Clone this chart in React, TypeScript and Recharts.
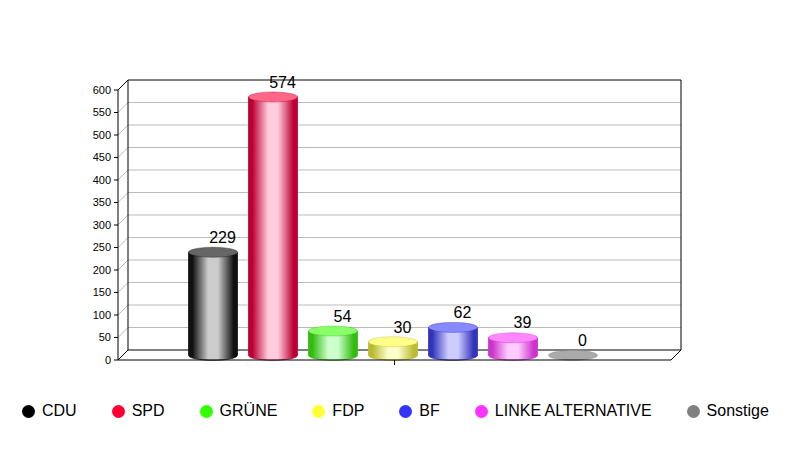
import { Bar, CartesianGrid, ComposedChart, LabelList, Legend, ReferenceArea, XAxis, YAxis } from "recharts";

const parties = ["CDU", "SPD", "GRÜNE", "FDP", "BF", "LINKE ALTERNATIVE", "Sonstige"];
const seats = [229, 574, 54, 30, 62, 39, 0];
const yTicks = [0, 50, 100, 150, 200, 250, 300, 350, 400, 450, 500, 550, 600];

const legendColors = ["#000000", "#ff0033", "#33ff00", "#ffff33", "#3333ff", "#ff33ff", "#808080"];
const edgeColors = ["#111111", "#bb0033", "#33bb11", "#bbbb33", "#3333bb", "#cc33cc", "#808080"];
const midColors = ["#cccccc", "#ffccdd", "#ccffcc", "#ffffcc", "#ccccff", "#ffccff", "#bbbbbb"];
const capColors = ["#666666", "#ff6688", "#88ff66", "#ffff88", "#8888ff", "#ff88ff", "#aaaaaa"];

const row: Record<string, string | number> = { name: " " };
parties.forEach((p, i) => {
  row[p] = seats[i];
});
const data = [row];

const FONT = "'Liberation Sans', Arial, sans-serif";
const DEPTH = 10;

// back wall line + the little diagonal going to the axis
function GridLine(props: any) {
  const { x1, x2, y1 } = props;
  const isFloor = y1 > 350;
  const isTop = y1 < 95;
  const color = isFloor || isTop ? "#000" : "#bbb";
  return (
    <g>
      <line x1={x1} y1={y1} x2={x1 + DEPTH} y2={y1 - DEPTH} stroke={color} />
      <line x1={x1 + DEPTH} y1={y1 - DEPTH} x2={x2 + DEPTH} y2={y1 - DEPTH} stroke={color} />
    </g>
  );
}

function Frame(props: any) {
  const { x, y, width, height } = props;
  const right = x + width;
  const bottom = y + height;
  return (
    <g stroke="#000" fill="none">
      <line x1={x + DEPTH} y1={y - DEPTH} x2={x + DEPTH} y2={bottom - DEPTH} />
      <line x1={right + DEPTH} y1={y - DEPTH} x2={right + DEPTH} y2={bottom - DEPTH} />
      <line x1={right} y1={bottom} x2={right + DEPTH} y2={bottom - DEPTH} />
    </g>
  );
}

function makeCylinder(index: number) {
  return function Cylinder(props: any) {
    const { x, y, width, height } = props;
    const left = x - 1.5;
    const rx = width / 2;
    const ry = 5;
    const top = y - 4.7;
    const bottom = y + height - 4.7;
    return (
      <g>
        {height > 0 && (
          <path
            d={`M${left},${top} L${left},${bottom} A${rx},${ry} 0 0 0 ${left + width},${bottom} L${left + width},${top} Z`}
            fill={`url(#cyl${index})`}
            stroke={edgeColors[index]}
            strokeWidth={0.8}
          />
        )}
        <ellipse
          cx={left + rx}
          cy={top}
          rx={rx}
          ry={ry}
          fill={capColors[index]}
          stroke={edgeColors[index]}
          strokeOpacity={0.5}
          strokeWidth={0.8}
        />
      </g>
    );
  };
}

function ValueLabel(props: any) {
  const { x, y, width, value } = props;
  return (
    <text x={x + width / 2 + 8} y={y - 14} textAnchor="middle" fontFamily={FONT} fontSize={16} fill="#000">
      {value}
    </text>
  );
}

function PartyLegend() {
  return (
    <div style={{ display: "flex", gap: 35, fontFamily: FONT, fontSize: 16, color: "#000", whiteSpace: "nowrap" }}>
      {parties.map((p, i) => (
        <div key={p} style={{ display: "flex", alignItems: "center" }}>
          <span
            style={{
              width: 13,
              height: 13,
              borderRadius: "50%",
              background: legendColors[i],
              marginRight: 7,
              display: "inline-block",
            }}
          />
          {p}
        </div>
      ))}
    </div>
  );
}

export default function App() {
  return (
    <div style={{ position: "absolute", left: 0, top: 0, width: 791, height: 450, background: "#fff" }}>
      <ComposedChart
        width={791}
        height={450}
        data={data}
        barSize={49}
        barGap={11}
        margin={{ top: 90, right: 120, bottom: 80, left: 0 }}
      >
        <defs>
          {parties.map((p, i) => (
            <linearGradient key={p} id={`cyl${i}`} x1="0" y1="0" x2="1" y2="0">
              <stop offset="0%" stopColor={edgeColors[i]} />
              <stop offset="8%" stopColor={edgeColors[i]} />
              <stop offset="40%" stopColor={midColors[i]} />
              <stop offset="60%" stopColor={midColors[i]} />
              <stop offset="92%" stopColor={edgeColors[i]} />
              <stop offset="100%" stopColor={edgeColors[i]} />
            </linearGradient>
          ))}
        </defs>
        <CartesianGrid vertical={false} horizontal={GridLine} syncWithTicks />
        <ReferenceArea y1={0} y2={600} shape={Frame} fill="none" ifOverflow="visible" />
        <XAxis
          dataKey="name"
          height={10}
          tickSize={5}
          tick={{ fontSize: 1 }}
          axisLine={{ stroke: "#000" }}
          tickLine={{ stroke: "#000" }}
        />
        <YAxis
          type="number"
          width={118}
          domain={[0, 600]}
          ticks={yTicks}
          interval={0}
          tickSize={4}
          tickMargin={3}
          axisLine={{ stroke: "#000" }}
          tickLine={{ stroke: "#000" }}
          tick={{ fontFamily: FONT, fontSize: 11, fill: "#000" }}
        />
        <Legend
          layout="horizontal"
          verticalAlign="middle"
          align="center"
          content={<PartyLegend />}
          wrapperStyle={{ top: 402, left: 22, width: 769, right: "auto", bottom: "auto" }}
        />
        {parties.map((p, i) => (
          <Bar key={p} dataKey={p} isAnimationActive={false} shape={makeCylinder(i)}>
            <LabelList dataKey={p} content={ValueLabel} />
          </Bar>
        ))}
      </ComposedChart>
    </div>
  );
}
